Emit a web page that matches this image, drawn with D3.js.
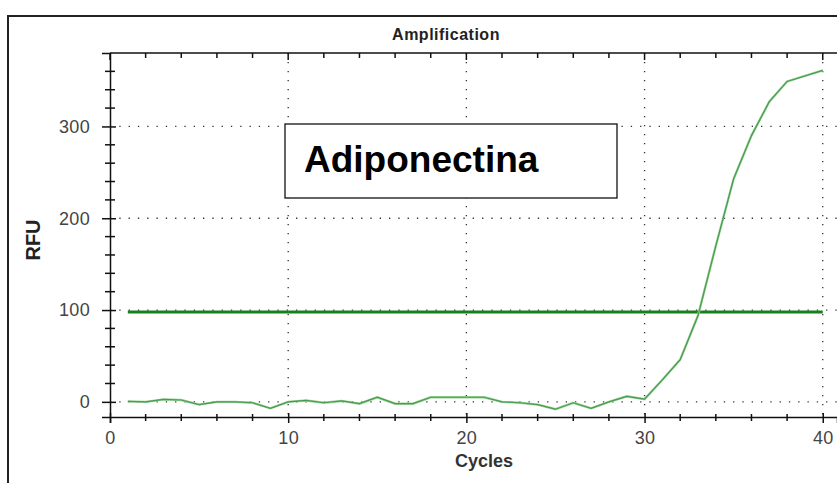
<!DOCTYPE html>
<html>
<head>
<meta charset="utf-8">
<script src="https://cdn.jsdelivr.net/npm/d3@7"></script>
<style>
  body { margin: 0; background: #fff; }
  text { font-family: "Liberation Sans", Arial, sans-serif; }
</style>
</head>
<body>
<script>
var cycles = d3.range(1, 41);
var rfu = [0.5, 0, 2.7, 2, -3, 0, 0, -1, -7, 0,
           1.5, -1, 1, -2, 5, -2, -2, 5, 5, 5,
           5, 0, -1, -3, -8, -1, -7, 0, 6, 3,
           24, 46, 94, 170, 243, 290, 327, 349, 355, 361];
var threshold = 98;
var xTicks = [0, 10, 20, 30, 40];
var yTicks = [0, 100, 200, 300];

var svg = d3.select("body").append("svg").attr("width", 837).attr("height", 483);

// outer frame
svg.append("rect").attr("x", 8).attr("y", 16).attr("width", 840).attr("height", 480)
      .attr("fill", "none").attr("stroke", "#222").attr("stroke-width", 2);

var x = d3.scaleLinear().domain([0, 40.8]).range([110, 837]);
var y = d3.scaleLinear().domain([-16.5, 380]).range([417, 53]);

// dotted grid
svg.selectAll("line.gx")
      .data(xTicks.slice(1))
      .enter().append("line")
      .attr("class", "gx")
      .attr("x1", function (d) { return x(d); })
      .attr("x2", function (d) { return x(d); })
      .attr("y1", y(380))
      .attr("y2", y(-16.5))
      .attr("stroke", "#333").attr("stroke-width", 1.3).attr("stroke-dasharray", "1.3,7.7");

svg.selectAll("line.gy")
      .data(yTicks)
      .enter().append("line")
      .attr("class", "gy")
      .attr("x1", x(0))
      .attr("x2", 837)
      .attr("y1", function (d) { return y(d); })
      .attr("y2", function (d) { return y(d); })
      .attr("stroke", "#333").attr("stroke-width", 1.3).attr("stroke-dasharray", "1.3,8");

// axes
var xAxis = d3.axisBottom(x).tickValues(xTicks).tickSize(6).tickPadding(8).tickFormat(d3.format("d"));
var gx = svg.append("g").attr("transform", "translate(0," + y(-16.5) + ")").call(xAxis);
var yAxis = d3.axisLeft(y).tickValues(yTicks).tickSize(8).tickPadding(12).tickFormat(d3.format("d"));
var gy = svg.append("g").attr("transform", "translate(" + x(0) + ",0)").call(yAxis);
[gx, gy].forEach(function (g) {
  g.select(".domain").attr("stroke", "#111").attr("stroke-width", 1.5);
  g.selectAll(".tick line").attr("stroke", "#111").attr("stroke-width", 1.5);
  g.selectAll(".tick text").attr("font-size", 18).attr("fill", "#444")
        .attr("letter-spacing", 0.3)
        .attr("font-family", "'Liberation Sans', Arial, sans-serif");
});
gx.selectAll(".tick line").attr("y1", -4).attr("y2", 6);
gy.selectAll(".tick line").attr("x1", 6);

// minor ticks
var xMinor = d3.range(2, 41, 2).filter(function (d) { return d % 10 !== 0; });
svg.selectAll("line.mx")
      .data(xMinor)
      .enter().append("line")
      .attr("class", "mx")
      .attr("x1", function (d) { return x(d); })
      .attr("x2", function (d) { return x(d); })
      .attr("y1", y(-16.5) - 3).attr("y2", y(-16.5) + 4)
      .attr("stroke", "#111").attr("stroke-width", 1.5);

var yMinor = d3.range(20, 380, 20).filter(function (d) { return d % 100 !== 0; });
svg.selectAll("line.my")
      .data(yMinor)
      .enter().append("line")
      .attr("class", "my")
      .attr("x1", x(0) - 5).attr("x2", x(0) + 5)
      .attr("y1", function (d) { return y(d); })
      .attr("y2", function (d) { return y(d); })
      .attr("stroke", "#111").attr("stroke-width", 1.5);

// top border with ticks
svg.append("line").attr("x1", x(0)).attr("x2", 837).attr("y1", y(380)).attr("y2", y(380))
      .attr("stroke", "#111").attr("stroke-width", 1.5);
svg.selectAll("line.tt")
      .data(d3.range(0, 41, 2))
      .enter().append("line")
      .attr("class", "tt")
      .attr("x1", function (d) { return x(d); })
      .attr("x2", function (d) { return x(d); })
      .attr("y1", y(380)).attr("y2", function (d) { return y(380) + (d % 10 === 0 ? 7 : 5); })
      .attr("stroke", "#111").attr("stroke-width", 1.5);

// threshold
svg.append("line")
      .attr("x1", x(1)).attr("x2", x(40))
      .attr("y1", y(threshold)).attr("y2", y(threshold))
      .attr("stroke", "#17801a").attr("stroke-width", 3);

// amplification curve
var line = d3.line()
      .x(function (d, i) { return x(cycles[i]); })
      .y(function (d) { return y(d); });
svg.append("path").datum(rfu)
      .attr("d", line)
      .attr("fill", "none")
      .attr("stroke", "#9ad49a").attr("stroke-width", 2.4);
svg.append("path").datum(rfu)
      .attr("d", line)
      .attr("fill", "none")
      .attr("stroke", "#4a9a50").attr("stroke-width", 1.2);

// titles
svg.append("text").attr("x", 446).attr("y", 40).attr("text-anchor", "middle")
      .attr("font-size", 16).attr("font-weight", "bold").attr("fill", "#222")
      .attr("letter-spacing", 0.5)
      .text("Amplification");
svg.append("text").attr("x", 484).attr("y", 467).attr("text-anchor", "middle")
      .attr("font-size", 18).attr("font-weight", "bold").attr("fill", "#333")
      .text("Cycles");
svg.append("text").attr("transform", "translate(40,240) rotate(-90)").attr("text-anchor", "middle")
      .attr("font-size", 20).attr("font-weight", "bold").attr("fill", "#222")
      .text("RFU");

// annotation box
svg.append("rect").attr("x", 285).attr("y", 124).attr("width", 332).attr("height", 74)
      .attr("fill", "#fff").attr("stroke", "#111").attr("stroke-width", 1.3);
svg.append("text").attr("x", 304).attr("y", 172)
      .attr("font-size", 37).attr("font-weight", "bold").attr("fill", "#000")
      .text("Adiponectina");
</script>
</body>
</html>
